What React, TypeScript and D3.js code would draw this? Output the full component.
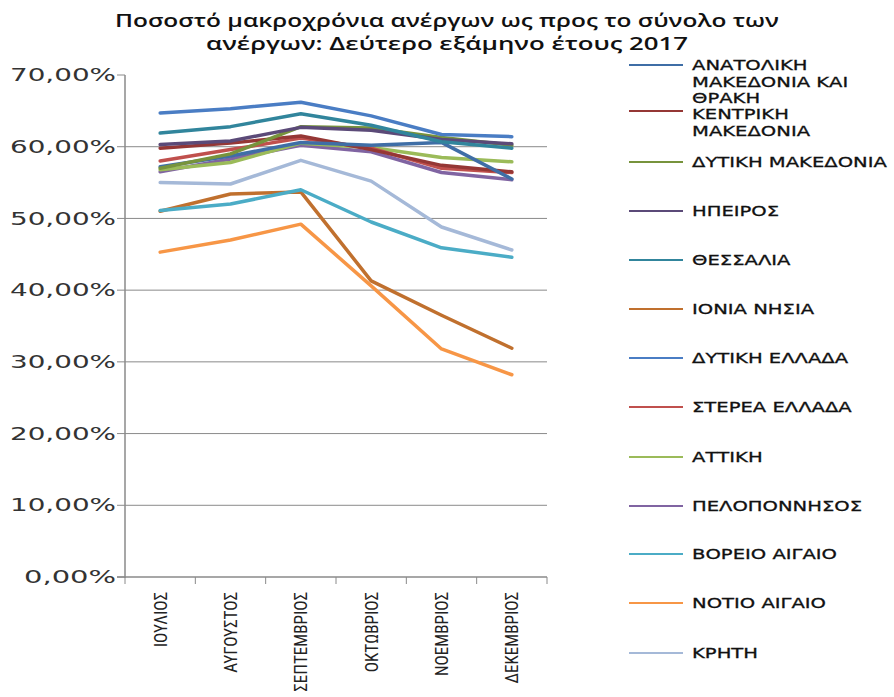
import React from "react";
import * as d3 from "d3";

const months = ["ΙΟΥΛΙΟΣ", "ΑΥΓΟΥΣΤΟΣ", "ΣΕΠΤΕΜΒΡΙΟΣ", "ΟΚΤΩΒΡΙΟΣ", "ΝΟΕΜΒΡΙΟΣ", "ΔΕΚΕΜΒΡΙΟΣ"];
const regions = [
  "ΑΝΑΤΟΛΙΚΗ ΜΑΚΕΔΟΝΙΑ ΚΑΙ ΘΡΑΚΗ",
  "ΚΕΝΤΡΙΚΗ ΜΑΚΕΔΟΝΙΑ",
  "ΔΥΤΙΚΗ ΜΑΚΕΔΟΝΙΑ",
  "ΗΠΕΙΡΟΣ",
  "ΘΕΣΣΑΛΙΑ",
  "ΙΟΝΙΑ ΝΗΣΙΑ",
  "ΔΥΤΙΚΗ ΕΛΛΑΔΑ",
  "ΣΤΕΡΕΑ ΕΛΛΑΔΑ",
  "ΑΤΤΙΚΗ",
  "ΠΕΛΟΠΟΝΝΗΣΟΣ",
  "ΒΟΡΕΙΟ ΑΙΓΑΙΟ",
  "ΝΟΤΙΟ ΑΙΓΑΙΟ",
  "ΚΡΗΤΗ",
];
const legendLines = [
  ["ΑΝΑΤΟΛΙΚΗ", "ΜΑΚΕΔΟΝΙΑ ΚΑΙ", "ΘΡΑΚΗ"],
  ["ΚΕΝΤΡΙΚΗ", "ΜΑΚΕΔΟΝΙΑ"],
  ["ΔΥΤΙΚΗ ΜΑΚΕΔΟΝΙΑ"],
  ["ΗΠΕΙΡΟΣ"],
  ["ΘΕΣΣΑΛΙΑ"],
  ["ΙΟΝΙΑ ΝΗΣΙΑ"],
  ["ΔΥΤΙΚΗ ΕΛΛΑΔΑ"],
  ["ΣΤΕΡΕΑ ΕΛΛΑΔΑ"],
  ["ΑΤΤΙΚΗ"],
  ["ΠΕΛΟΠΟΝΝΗΣΟΣ"],
  ["ΒΟΡΕΙΟ ΑΙΓΑΙΟ"],
  ["ΝΟΤΙΟ ΑΙΓΑΙΟ"],
  ["ΚΡΗΤΗ"],
];
const colors = [
  "#3F6EA6", "#953735", "#77933C", "#5B4A78", "#31859C", "#C0702E",
  "#4A7DC4", "#C0504D", "#9BBB59", "#8064A2", "#4BACC6", "#F79646", "#A5B9D8",
];

const anMak = [57.2, 58.7, 60.6, 60.2, 60.6, 55.5];
const kenMak = [59.8, 60.5, 61.5, 59.6, 57.4, 56.5];
const dytMak = [57.0, 59.0, 62.8, 62.6, 61.3, 60.2];
const ipeiros = [60.3, 60.8, 62.7, 62.3, 61.0, 60.4];
const thessalia = [61.9, 62.8, 64.6, 63.0, 60.7, 59.8];
const ionia = [51.0, 53.4, 53.7, 41.3, 36.5, 31.9];
const dytEll = [64.7, 65.3, 66.2, 64.3, 61.7, 61.4];
const sterea = [58.0, 59.6, 61.2, 59.8, 57.0, 56.4];
const attiki = [56.8, 57.8, 60.5, 59.9, 58.5, 57.9];
const pelop = [56.5, 58.3, 60.2, 59.3, 56.4, 55.4];
const vorAig = [51.1, 52.0, 54.0, 49.5, 45.9, 44.6];
const notAig = [45.3, 47.0, 49.2, 40.6, 31.8, 28.2];
const kriti = [55.0, 54.8, 58.1, 55.2, 48.8, 45.6];

const seriesValues = [anMak, kenMak, dytMak, ipeiros, thessalia, ionia, dytEll, sterea, attiki, pelop, vorAig, notAig, kriti];
const yTicks = [0, 10, 20, 30, 40, 50, 60, 70];
const legendY = [65, 113, 162, 211, 260, 309, 358, 407, 457, 506, 554, 603, 653];

export default function App() {
  const W = 894, H = 697;
  const x0 = 125, x1 = 547, yTop = 75, yBot = 577;
  const x = d3.scaleBand<string>().domain(months).range([x0, x1]);
  const y = d3.scaleLinear().domain([0, 70]).range([yBot, yTop]);
  const line = d3.line<number>().x((_, i) => (x(months[i]) as number) + x.bandwidth() / 2).y((v) => y(v));
  const drawOrder = [12, 11, 5, 10, 9, 8, 7, 1, 0, 2, 3, 4, 6];
  const titleFont = "'Open Sans', 'Noto Sans', sans-serif";
  const legFont = "'DejaVu Sans', Verdana, sans-serif";

  return (
    <svg width={W} height={H} style={{ position: "absolute", left: 0, top: 0, background: "#fff" }}>
      <text x={447} y={27} textAnchor="middle" fontFamily={titleFont} fontWeight={600} fontSize={18} fill="#111"
        textLength={664} lengthAdjust="spacingAndGlyphs">
        Ποσοστό μακροχρόνια ανέργων ως προς το σύνολο των
      </text>
      <text x={447} y={50} textAnchor="middle" fontFamily={titleFont} fontWeight={600} fontSize={18} fill="#111"
        textLength={482} lengthAdjust="spacingAndGlyphs">
        ανέργων: Δεύτερο εξάμηνο έτους 2017
      </text>

      {yTicks.filter((t) => t > 0 && t < 70).map((t) => (
        <line key={"g" + t} x1={x0} x2={x1} y1={y(t)} y2={y(t)} stroke="#8a8a8a" strokeWidth={1} />
      ))}
      {yTicks.map((t) => {
        const label = d3.format(".2f")(t).replace(".", ",") + "%";
        return (
          <g key={"t" + t}>
            <line x1={x0 - 8} x2={x0} y1={y(t)} y2={y(t)} stroke="#8a8a8a" strokeWidth={1} />
            <text x={x0 - 9} y={y(t)} dy="0.36em" textAnchor="end" fontFamily={legFont} fontSize={17} fill="#333"
              textLength={t === 0 ? 92 : 106} lengthAdjust="spacingAndGlyphs">
              {label}
            </text>
          </g>
        );
      })}
      <line x1={x0} x2={x0} y1={yTop} y2={yBot + 1} stroke="#8a8a8a" strokeWidth={1.5} />
      <line x1={x0 - 8} x2={x1} y1={yBot} y2={yBot} stroke="#8a8a8a" strokeWidth={1.5} />
      {d3.range(months.length + 1).map((i) => {
        const xx = x0 + i * x.bandwidth();
        return <line key={"xt" + i} x1={xx} x2={xx} y1={yBot} y2={yBot + 7} stroke="#8a8a8a" strokeWidth={1} />;
      })}
      {months.map((m) => (
        <text
          key={m}
          transform={`translate(${(x(m) as number) + x.bandwidth() / 2},${592}) rotate(-90) scale(0.9,1)`}
          textAnchor="end"
          dy="0.35em"
          fontFamily="'Liberation Sans Narrow', 'Arial Narrow', 'Roboto Condensed', sans-serif"
          fontSize={19}
          fill="#222"
        >
          {m}
        </text>
      ))}

      {drawOrder.map((i) => (
        <path key={regions[i]} d={line(seriesValues[i]) || ""} fill="none" stroke={colors[i]} strokeWidth={3.5} strokeLinejoin="round" strokeLinecap="round" />
      ))}

      {regions.map((r, i) => (
        <g key={"l" + r}>
          <line x1={629} x2={683} y1={legendY[i] - (i === 1 ? 2 : 0)} y2={legendY[i] - (i === 1 ? 2 : 0)} stroke={colors[i]} strokeWidth={2} />
          {legendLines[i].map((t, j) => (
            <text key={t} transform={`translate(692,${legendY[i] + (i === 1 ? 1 : 0) + j * 16.5}) scale(1.35,1)`} dy="0.36em"
              fontFamily={legFont} fontSize={14.5} fill="#111" stroke="#111" strokeWidth={0.3}>
              {t}
            </text>
          ))}
        </g>
      ))}
    </svg>
  );
}
